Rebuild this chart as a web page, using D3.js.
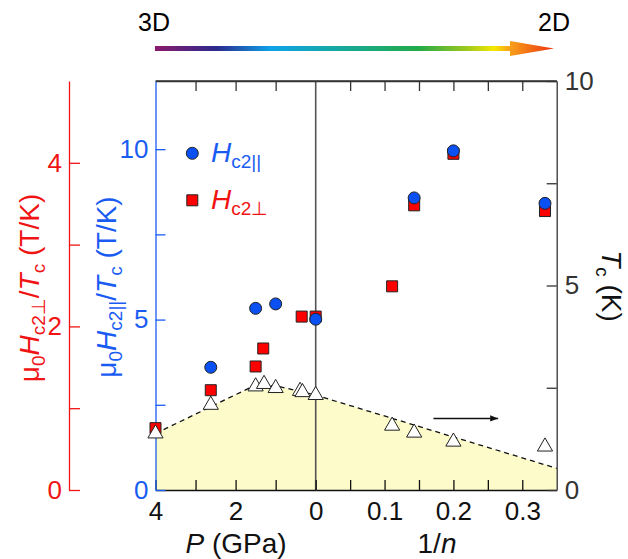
<!DOCTYPE html>
<html>
<head>
<meta charset="utf-8">
<script src="https://cdn.jsdelivr.net/npm/d3@7"></script>
<style>
  body { margin: 0; background: #fff; }
  svg { display: block; font-family: "Liberation Sans", Arial, sans-serif; }
  .axis text { font-size: 26px; }
</style>
</head>
<body>
<div id="chart"></div>
<script>
// pressure side (left half) and 1/n side (right half)
var hparP = [ {x: 2.62, v: 3.6}, {x: 1.5, v: 5.33}, {x: 1.0, v: 5.46}, {x: 0, v: 5.01} ]
var hparN = [ {x: 0.143, v: 8.57}, {x: 0.2, v: 9.95}, {x: 0.333, v: 8.41} ]

var hperpP = [ {x: 4, v: 0.756}, {x: 2.62, v: 1.22}, {x: 1.5, v: 1.51}, {x: 1.31, v: 1.73},
               {x: 0.35, v: 2.12}, {x: 0, v: 2.12} ]
var hperpN = [ {x: 0.111, v: 2.49}, {x: 0.143, v: 3.48}, {x: 0.2, v: 4.11}, {x: 0.333, v: 3.41} ]

var tcP = [ {x: 4, v: 1.38}, {x: 2.62, v: 2.08}, {x: 1.5, v: 2.53}, {x: 1.29, v: 2.59},
            {x: 1.0, v: 2.49}, {x: 0.39, v: 2.42}, {x: 0.33, v: 2.39}, {x: 0, v: 2.32} ]
var tcN = [ {x: 0.111, v: 1.57}, {x: 0.143, v: 1.40}, {x: 0.2, v: 1.18}, {x: 0.333, v: 1.06} ]

// dashed guide / shaded superconducting region
var boundaryP = [ {x: 4, v: 1.38}, {x: 1.6, v: 2.52}, {x: 1.0, v: 2.55}, {x: 0, v: 2.32} ]
var boundaryN = [ {x: 0, v: 2.32}, {x: 0.35, v: 0.53} ]

var pTicks = [4, 3, 2, 1, 0]
var nTicks = [0.05, 0.1, 0.15, 0.2, 0.25, 0.3]
var blueTicks = [0, 2.5, 5, 7.5, 10]
var redTicks = [0, 1, 2, 3, 4]
var tcTicks = [0, 2.5, 5, 7.5, 10]

var W = 628, H = 559
var BLUE = "#1a5cf2", RED = "#f01414", DARK = "#333"

var svg = d3.select("#chart").append("svg")
  .attr("width", W)
  .attr("height", H)

// plot frame (pixels)
var fL = 155.5, fM = 315.7, fR = 556.7, fT = 81, fB = 490

var xP = d3.scaleLinear().domain([4, 0]).range([fL, fM])
var xN = d3.scaleLinear().domain([0, 0.35]).range([fM, fR])
var yBlue = d3.scaleLinear().domain([0, 12]).range([fB, fT])
var yRed = d3.scaleLinear().domain([0, 5]).range([fB, fT])
var yTc = d3.scaleLinear().domain([0, 10]).range([fB, fT])

// top 3D -> 2D gradient arrow
var defs = svg.append("defs")
var grad = defs.append("linearGradient")
  .attr("id", "dimgrad")
  .attr("gradientUnits", "userSpaceOnUse")
  .attr("x1", 155).attr("x2", 554).attr("y1", 0).attr("y2", 0)
var stops = [
  [0, "#8b1a6b"], [0.155, "#2b2a8d"], [0.29, "#0ea2e8"], [0.46, "#16a8a0"],
  [0.66, "#22aa48"], [0.78, "#9cc81e"], [0.85, "#f5e800"], [0.89, "#f7a01a"], [1, "#ee3010"]
]
grad.selectAll("stop").data(stops).enter().append("stop")
  .attr("offset", function (d) { return d[0] })
  .attr("stop-color", function (d) { return d[1] })

svg.append("rect")
  .attr("x", 155).attr("y", 46).attr("width", 356).attr("height", 5)
  .attr("fill", "url(#dimgrad)")
svg.append("path")
  .attr("d", "M510,41L554,48.5L510,56Z")
  .attr("fill", "url(#dimgrad)")

svg.append("text").attr("x", 154).attr("y", 30.5).attr("text-anchor", "middle")
  .attr("font-size", 25).text("3D")
svg.append("text").attr("x", 554).attr("y", 30.5).attr("text-anchor", "middle")
  .attr("font-size", 25).text("2D")

// shaded region + dashed boundary
var pts = boundaryP.map(function (d) { return [xP(d.x), yTc(d.v)] })
  .concat(boundaryN.map(function (d) { return [xN(d.x), yTc(d.v)] }))

svg.append("path")
  .attr("d", d3.area().x(function (d) { return d[0] }).y0(fB).y1(function (d) { return d[1] })(pts))
  .attr("fill", "#fcfbc9")

svg.append("path")
  .attr("d", d3.line()(pts))
  .attr("fill", "none")
  .attr("stroke", "#111")
  .attr("stroke-width", 1.3)
  .attr("stroke-dasharray", "5,4")

// centre divider
svg.append("line")
  .attr("x1", fM).attr("x2", fM).attr("y1", fT).attr("y2", fB)
  .attr("stroke", "#555").attr("stroke-width", 1.6)

function styleAxis(g, color) {
  g.attr("class", "axis")
  g.selectAll("path").attr("stroke", color).attr("stroke-width", 1.3)
  g.selectAll("line").attr("stroke", color).attr("stroke-width", 1.3)
  g.selectAll("text").attr("fill", color)
  g.attr("font-family", null).attr("font-size", null)
}

// bottom axes
var gbP = svg.append("g").attr("transform", "translate(0," + fB + ")")
  .call(d3.axisBottom(xP).tickValues(pTicks).tickSizeInner(-10).tickSizeOuter(0).tickPadding(12)
    .tickFormat(function (d) { return d % 2 === 0 ? d : "" }))
styleAxis(gbP, "#111")
var gbN = svg.append("g").attr("transform", "translate(0," + fB + ")")
  .call(d3.axisBottom(xN).tickValues(nTicks).tickSizeInner(-10).tickSizeOuter(0).tickPadding(12)
    .tickFormat(function (d) { return Math.abs(d * 10 - Math.round(d * 10)) < 1e-6 ? d3.format(".1f")(d) : "" }))
styleAxis(gbN, "#111")

// top axes (ticks only)
var gtP = svg.append("g").attr("transform", "translate(0," + fT + ")")
  .call(d3.axisTop(xP).tickValues([3, 2, 1]).tickSizeInner(-10).tickSizeOuter(0).tickFormat(""))
styleAxis(gtP, DARK)
var gtN = svg.append("g").attr("transform", "translate(0," + fT + ")")
  .call(d3.axisTop(xN).tickValues(nTicks).tickSizeInner(-10).tickSizeOuter(0).tickFormat(""))
styleAxis(gtN, DARK)

// blue left axis (frame)
var gBlue = svg.append("g").attr("transform", "translate(" + fL + ",0)")
  .call(d3.axisLeft(yBlue).tickValues(blueTicks).tickSizeInner(-10).tickSizeOuter(0).tickPadding(7)
    .tickFormat(function (d) { return d % 5 === 0 ? d : "" }))
styleAxis(gBlue, BLUE)

// red detached axis
var gRed = svg.append("g").attr("transform", "translate(69,0)")
  .call(d3.axisLeft(yRed).tickValues(redTicks).tickSizeInner(-11).tickSizeOuter(0).tickPadding(7)
    .tickFormat(function (d) { return d % 2 === 0 ? d : "" }))
styleAxis(gRed, RED)

// right Tc axis
var gTc = svg.append("g").attr("transform", "translate(" + fR + ",0)")
  .call(d3.axisRight(yTc).tickValues(tcTicks).tickSizeInner(-10).tickSizeOuter(0).tickPadding(8)
    .tickFormat(function (d) { return d % 5 === 0 ? d : "" }))
styleAxis(gTc, DARK)

// axis titles
function subTitle(t, parts, size) {
  parts.forEach(function (p) {
    var s = t.append("tspan").text(p.t)
    if (p.i) s.attr("font-style", "italic")
    if (p.sub) s.attr("font-size", size * 0.68).attr("dy", size * 0.22)
    if (p.up) s.attr("dy", -size * 0.22)
  })
}

var redTitle = svg.append("text")
  .attr("transform", "translate(39,288) rotate(-90)")
  .attr("text-anchor", "middle").attr("fill", RED).attr("font-size", 28)
subTitle(redTitle, [
  {t: "\u03bc"}, {t: "0", sub: 1}, {t: "H", i: 1, up: 1}, {t: "c2\u22a5", sub: 1},
  {t: "/", up: 1}, {t: "T", i: 1}, {t: "c", sub: 1}, {t: " (T/K)", up: 1}
], 28)

var blueTitle = svg.append("text")
  .attr("transform", "translate(115.5,287) rotate(-90)")
  .attr("text-anchor", "middle").attr("fill", BLUE).attr("font-size", 28)
subTitle(blueTitle, [
  {t: "\u03bc"}, {t: "0", sub: 1}, {t: "H", i: 1, up: 1}, {t: "c2||", sub: 1},
  {t: "/", up: 1}, {t: "T", i: 1}, {t: "c", sub: 1}, {t: " (T/K)", up: 1}
], 28)

var tcTitle = svg.append("text")
  .attr("transform", "translate(602,286) rotate(90)")
  .attr("text-anchor", "middle").attr("fill", "#111").attr("font-size", 28)
subTitle(tcTitle, [ {t: "T", i: 1}, {t: "c", sub: 1}, {t: " (K)", up: 1} ], 28)

var pTitle = svg.append("text")
  .attr("x", 236).attr("y", 553).attr("text-anchor", "middle").attr("fill", "#111").attr("font-size", 28)
subTitle(pTitle, [ {t: "P", i: 1}, {t: " (GPa)"} ], 28)

var nTitle = svg.append("text")
  .attr("x", 437).attr("y", 553).attr("text-anchor", "middle").attr("fill", "#111").attr("font-size", 28)
subTitle(nTitle, [ {t: "1/"}, {t: "n", i: 1} ], 28)

// little Tc arrow
defs.append("marker")
  .attr("id", "ahead")
  .attr("viewBox", "0 -5 10 10")
  .attr("refX", 10).attr("refY", 0)
  .attr("markerUnits", "userSpaceOnUse")
  .attr("markerWidth", 12).attr("markerHeight", 8)
  .attr("orient", "auto")
  .append("path").attr("d", "M0,-4L10,0L0,4Z").attr("fill", "#111")
svg.append("line")
  .attr("x1", xN(0.171)).attr("x2", xN(0.265))
  .attr("y1", yTc(1.75)).attr("y2", yTc(1.75))
  .attr("stroke", "#111").attr("stroke-width", 1.6)
  .attr("marker-end", "url(#ahead)")

// markers
var sq = d3.symbol().type(d3.symbolSquare).size(121)
var circ = d3.symbol().type(d3.symbolCircle).size(113)
var tri = d3.symbol().type(d3.symbolTriangle).size(100)

function drawMarks(data, xs, ys, sym, fill) {
  svg.append("g").selectAll("path").data(data).enter().append("path")
    .attr("transform", function (d) { return "translate(" + xs(d.x) + "," + ys(d.v) + ")" })
    .attr("d", sym)
    .attr("fill", fill)
    .attr("stroke", "#222")
    .attr("stroke-width", 1)
}

drawMarks(hperpP, xP, yRed, sq, "#ff0000")
drawMarks(hperpN, xN, yRed, sq, "#ff0000")
drawMarks(hparP, xP, yBlue, circ, "#0a50f2")
drawMarks(hparN, xN, yBlue, circ, "#0a50f2")
drawMarks(tcP, xP, yTc, tri, "#fff")
drawMarks(tcN, xN, yTc, tri, "#fff")

// top frame line
svg.append("line")
  .attr("x1", fL).attr("x2", fR).attr("y1", fT).attr("y2", fT)
  .attr("stroke", DARK).attr("stroke-width", 1.3)

// legend
svg.append("path").attr("transform", "translate(192.3,153.3)").attr("d", circ)
  .attr("fill", "#0a50f2").attr("stroke", "#222")
svg.append("path").attr("transform", "translate(192.3,200.3)").attr("d", sq)
  .attr("fill", "#ff0000").attr("stroke", "#222")

var lg1 = svg.append("text").attr("x", 211).attr("y", 161.5).attr("fill", BLUE).attr("font-size", 28)
subTitle(lg1, [ {t: "H", i: 1}, {t: "c2||", sub: 1} ], 28)
var lg2 = svg.append("text").attr("x", 211).attr("y", 208.5).attr("fill", RED).attr("font-size", 28)
subTitle(lg2, [ {t: "H", i: 1}, {t: "c2\u22a5", sub: 1} ], 28)
</script>
</body>
</html>
